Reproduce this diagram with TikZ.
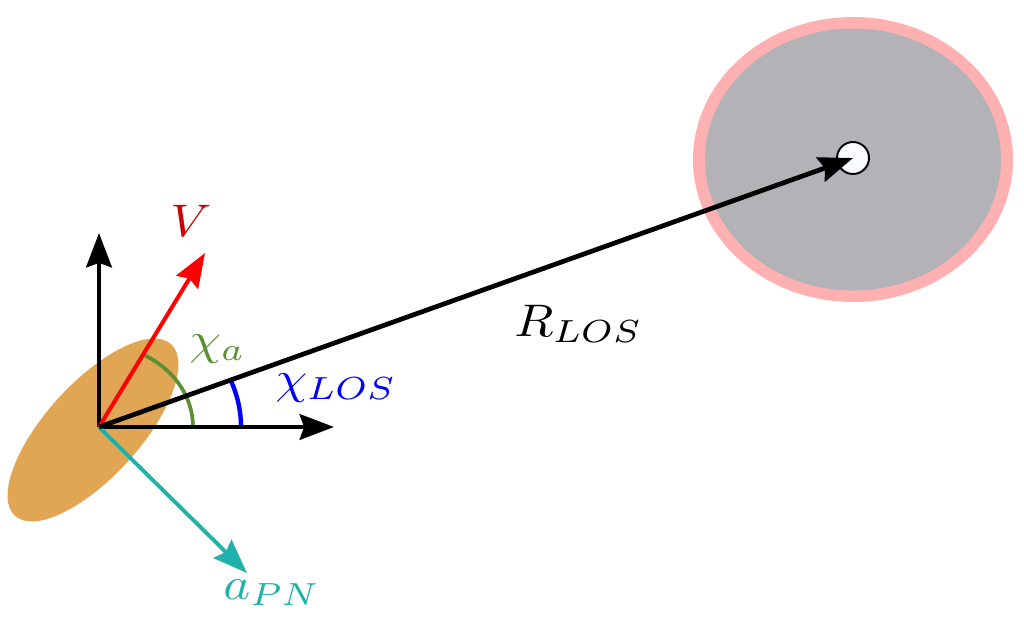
\documentclass[tikz,border=0pt]{standalone}
\usetikzlibrary{arrows.meta,calc}
\definecolor{bodyorange}{RGB}{225,166,84}
\definecolor{ringpink}{RGB}{255,176,176}
\definecolor{targetgray}{RGB}{179,178,183}
\definecolor{vred}{RGB}{255,0,0}
\definecolor{vtext}{RGB}{204,0,0}
\definecolor{chigreen}{RGB}{90,143,50}
\definecolor{chiblue}{RGB}{0,0,255}
\definecolor{pnteal}{RGB}{32,178,170}
\newcommand{\biglabel}[1]{\scalebox{2.9}[2.6]{$#1$}}
\tikzset{
  tip/.tip={Stealth[length=19.5pt,width=14.5pt,inset=2.5pt]},
  axisarrow/.style={line width=2.7pt,-tip},
  velarrow/.style={line width=2.3pt,vred,-tip},
  accarrow/.style={line width=2.2pt,pnteal,-tip},
  losarrow/.style={line width=2.7pt,-tip},
  lbl/.style={anchor=base west,inner sep=0pt},
  smallcircle/.style={circle,draw=black,line width=1.1pt,fill={rgb,255:red,248;green,252;blue,255},minimum size=0.64cm,inner sep=0pt}
}
\begin{document}
\begin{tikzpicture}[x=0.02cm,y=0.02cm]
\useasboundingbox (0,0) rectangle (1024,-626);
% target region
\fill[ringpink] (853,-159.5) ellipse [x radius=160,y radius=142.5];
\fill[targetgray] (853,-159.5) ellipse [x radius=148,y radius=131];
\node[smallcircle] (T) at (853,-158) {};
% body
\fill[bodyorange,rotate around={47.7:(93,-430)}] (93,-430) ellipse [x radius=116,y radius=47];
% coordinates
\coordinate (O) at (99,-427);
\coordinate (Ytip) at (99,-233);
\coordinate (Xtip) at (334,-427);
\coordinate (Vtip) at (205,-253);
\coordinate (Atip) at (247,-573);
% angle arcs
\draw[chigreen,line width=2.1pt] ($(O)+(94,0)$) arc[start angle=0,end angle=62,x radius=94,y radius=82];
\draw[chiblue,line width=2.5pt] ($(O)+(142,0)$) arc[start angle=0,end angle=22,x radius=142,y radius=125];
% arrows
\draw[axisarrow] (O) -- (Ytip);
\draw[axisarrow] (O) -- (Xtip);
\draw[velarrow] (O) -- (Vtip);
\draw[accarrow] (O) -- (Atip);
\draw[losarrow] (O) -- (T.center);
% labels
\node[lbl,text=vtext] (Vl) at (170,-236) {\biglabel{V}};
\node[lbl,text=chigreen] (Cal) at (189,-354) {\biglabel{\chi_a}};
\node[lbl,text=chiblue] (Cll) at (275,-393) {\biglabel{\chi_{LOS}}};
\node[lbl] (Rl) at (514,-336) {\biglabel{R_{LOS}}};
\node[lbl,text=pnteal] (Al) at (223,-599) {\biglabel{a_{PN}}};
\end{tikzpicture}
\end{document}
